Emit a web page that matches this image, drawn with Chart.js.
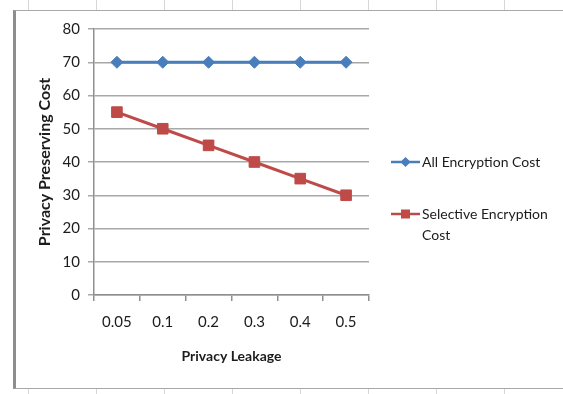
<!DOCTYPE html>
<html>
<head>
<meta charset="utf-8">
<script src="https://cdn.jsdelivr.net/npm/chart.js@4.4.0/dist/chart.umd.min.js"></script>
<style>
  html, body { margin: 0; padding: 0; background: #fff; }
  #sheet {
    position: relative; width: 563px; height: 394px; overflow: hidden;
    background: #fff repeating-linear-gradient(90deg, transparent 0 27px, #d6d6d6 27px 28px, transparent 28px 68px);
    background-position: 1px 0;
  }
  #frame {
    position: absolute; left: 13px; top: 10px; width: 570px; height: 377px;
    border-left: 3px solid #8e8e8e; border-top: 1px solid #a8a8a8; border-bottom: 1px solid #a8a8a8;
    background: #fff;
  }
  #wrap { position: absolute; left: 16px; top: 11px; width: 547px; height: 377px; }
</style>
</head>
<body>
<div id="sheet">
  <div id="frame"></div>
  <div id="wrap"><canvas id="c" width="547" height="377"></canvas></div>
</div>
<script>
// Privacy leakage levels on the x axis
const categories = ['0.05', '0.1', '0.2', '0.3', '0.4', '0.5'];
// Cost of encrypting everything vs. only the sensitive parts
const allEncryptionCost = [70, 70, 70, 70, 70, 70];
const selectiveEncryptionCost = [55, 50, 45, 40, 35, 30];
const seriesNames = ['All Encryption Cost', 'Selective Encryption Cost'];
// Value axis range and step
const yMin = 0, yMax = 80, yStep = 10;

const FONT = 'Lato, "Open Sans", sans-serif';
const TEXT = '#1c1c1c';
const AXIS = '#8f8f8f';
const BLUE = '#4a7ebb';
const RED = '#be4b48';

// Legend drawn to the right of the plot, with long names wrapped
const sideLegend = {
  id: 'sideLegend',
  afterDraw(chart) {
    const ctx = chart.ctx;
    const x0 = 375, lineLen = 29, textX = 406, maxW = 140, lineH = 21;
    const rows = [151, 203];
    ctx.save();
    ctx.font = '14px ' + FONT;
    ctx.textBaseline = 'middle';
    chart.data.datasets.forEach((ds, i) => {
      const y = rows[i];
      const cx = x0 + lineLen / 2;
      ctx.strokeStyle = ds.borderColor;
      ctx.lineWidth = 2.5;
      ctx.beginPath();
      ctx.moveTo(x0, y);
      ctx.lineTo(x0 + lineLen, y);
      ctx.stroke();
      // marker
      ctx.fillStyle = ds.pointBackgroundColor;
      ctx.beginPath();
      const r = ds.pointRadius * 0.85;
      if (ds.pointStyle === 'rect') {
        const s = r * Math.SQRT1_2;
        ctx.rect(cx - s, y - s, 2 * s, 2 * s);
      } else {
        ctx.moveTo(cx - r, y); ctx.lineTo(cx, y - r); ctx.lineTo(cx + r, y); ctx.lineTo(cx, y + r); ctx.closePath();
      }
      ctx.fill();
      // wrap the label into lines
      const words = ds.label.split(' ');
      const lines = [];
      let cur = '';
      words.forEach(w => {
        const t = cur ? cur + ' ' + w : w;
        if (ctx.measureText(t).width > maxW && cur) { lines.push(cur); cur = w; } else { cur = t; }
      });
      if (cur) lines.push(cur);
      ctx.fillStyle = TEXT;
      ctx.textAlign = 'left';
      lines.forEach((ln, k) => ctx.fillText(ln, textX, y + k * lineH));
    });
    ctx.restore();
  }
};

new Chart(document.getElementById('c'), {
  type: 'line',
  data: {
    labels: categories,
    datasets: [
      {
        label: seriesNames[0], data: allEncryptionCost,
        borderColor: BLUE, backgroundColor: BLUE,
        pointBackgroundColor: BLUE, pointBorderColor: BLUE,
        borderWidth: 3, pointStyle: 'rectRot', pointRadius: 6, pointBorderWidth: 1,
        tension: 0
      },
      {
        label: seriesNames[1], data: selectiveEncryptionCost,
        borderColor: RED, backgroundColor: RED,
        pointBackgroundColor: RED, pointBorderColor: RED,
        borderWidth: 3, pointStyle: 'rect', pointRadius: 7.5, pointBorderWidth: 1,
        tension: 0
      }
    ]
  },
  options: {
    responsive: false,
    animation: false,
    layout: { padding: { left: 0, right: 194, top: 18, bottom: 0 } },
    plugins: { legend: { display: false }, tooltip: { enabled: false } },
    scales: {
      x: {
        type: 'category',
        offset: true,
        grid: { offset: true, drawOnChartArea: false, drawTicks: true, tickLength: 6, color: AXIS, lineWidth: 1.5 },
        border: { color: AXIS, width: 1.5 },
        ticks: { padding: 12, color: TEXT, maxRotation: 0, font: { family: FONT, size: 15 } },
        title: { display: true, text: 'Privacy Leakage', color: TEXT, font: { family: FONT, size: 14, weight: 'bold' }, padding: { top: 0, bottom: 23 } },
        afterFit(s) { s.height = 93; }
      },
      y: {
        min: yMin, max: yMax,
        grid: { color: '#a8a8a8', lineWidth: 1.5, tickLength: 6, drawTicks: true },
        border: { color: AXIS, width: 1.5 },
        ticks: { stepSize: yStep, padding: 8, color: TEXT, font: { family: FONT, size: 15 } },
        title: { display: true, text: 'Privacy Preserving Cost', color: TEXT, font: { family: FONT, size: 16, weight: 'bold' }, padding: { top: 19, bottom: 0 } },
        afterFit(s) { s.width = 78; }
      }
    }
  },
  plugins: [sideLegend]
});
</script>
</body>
</html>
